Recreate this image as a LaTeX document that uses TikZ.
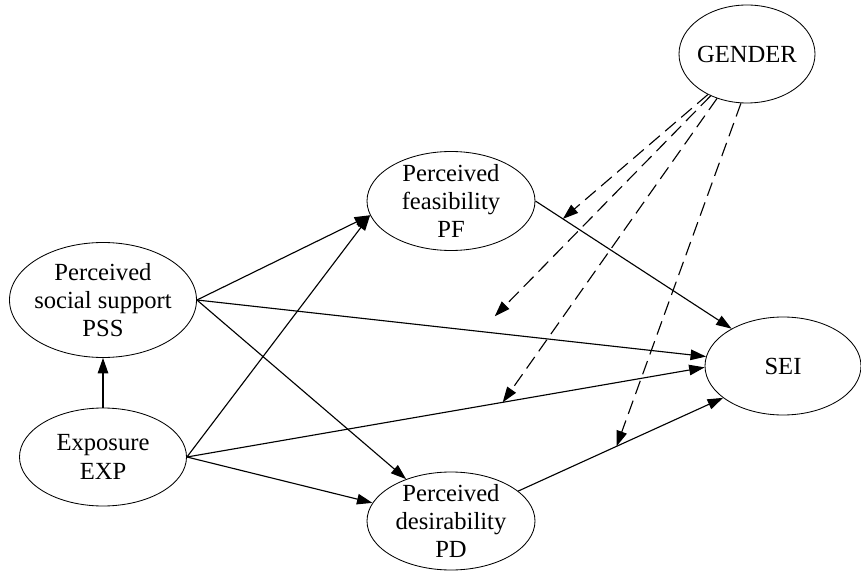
\documentclass[tikz,border=0pt]{standalone}
\usepackage{fontspec}
\setmainfont{Liberation Serif}
\usetikzlibrary{shapes.geometric, arrows.meta, calc}

\begin{document}
\begin{tikzpicture}[
  x=0.025cm, y=-0.025cm,
  font=\fontsize{17.5}{20}\selectfont,
  latent/.style={ellipse, draw, line width=0.6pt, align=center, inner sep=-5pt},
  path/.style={line width=0.8pt, -{Triangle[length=11pt, width=7.5pt]}},
  moder/.style={path, dash pattern=on 10pt off 5pt},
]
% page frame (pixel units, y downwards)
\useasboundingbox (0,0) rectangle (861,571);

% ---- constructs ----
\node[latent, minimum width=136*0.025cm, minimum height=98*0.025cm] (GENDER) at (747,54) {GENDER};
\node[latent, minimum width=168*0.025cm, minimum height=99*0.025cm] (PF) at (451,201) {Perceived\\feasibility\\PF};
\node[latent, minimum width=187*0.025cm, minimum height=115*0.025cm] (PSS) at (103,300) {Perceived\\social support\\PSS};
\node[latent, minimum width=167*0.025cm, minimum height=98*0.025cm] (EXP) at (103,457) {Exposure\\EXP};
\node[latent, minimum width=168*0.025cm, minimum height=98*0.025cm] (PD) at (451,521) {Perceived\\desirability\\PD};
\node[latent, minimum width=156*0.025cm, minimum height=98*0.025cm] (SEI) at (783,366) {SEI};

% ---- direct paths ----
\draw[path] (EXP) -- (PSS);
\draw[path] (PSS.east) -- (PF.190);
\draw[path] (EXP.east) -- (PF.190);
\draw[path] (PSS.east) -- (PD.137);
\draw[path] (EXP.east) -- (PD.167);
\draw[path] (PSS.east) -- coordinate[pos=0.585, yshift=0.42cm] (mPSS) (SEI.173);
\draw[path] (EXP.east) -- coordinate[pos=0.61] (mEXP) (SEI.181);
\draw[path] (PF.east) -- coordinate[pos=0.14] (mPF) (SEI.144);
\draw[path] (PD.24) -- coordinate[pos=0.48] (mPD) (SEI.208);

% ---- moderation by gender ----
\draw[moder] (GENDER.226) -- (mPF);
\draw[moder] (GENDER.229) -- (mPSS);
\draw[moder] (GENDER.236) -- (mEXP);
\draw[moder] (GENDER.263) -- (mPD);

\end{tikzpicture}
\end{document}
